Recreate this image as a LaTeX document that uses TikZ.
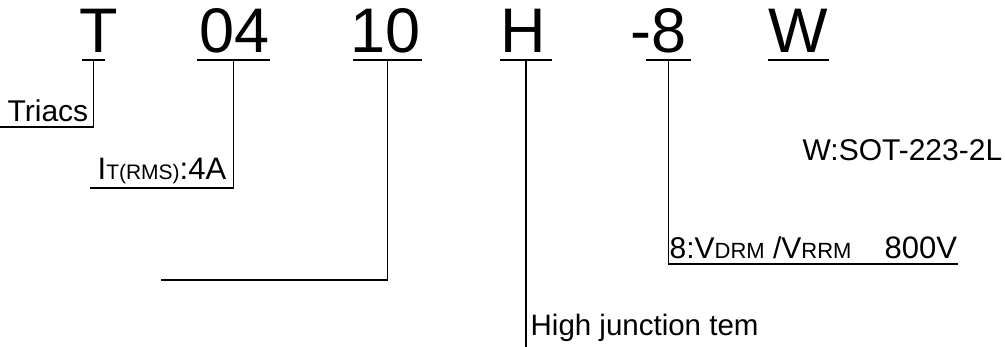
\documentclass[tikz,border=0pt]{standalone}
\usepackage{fontspec}
\setmainfont{Liberation Sans}
\usepackage{tikz}
\usetikzlibrary{positioning}

\begin{document}
\begin{tikzpicture}[x=1pt,y=-1pt,line width=1.3pt]
	\tikzstyle{code}=[font=\fontsize{63}{63}\selectfont,anchor=base west,inner sep=0pt]
	\tikzstyle{annot}=[anchor=base west,inner sep=0pt]
	\useasboundingbox (0,0) rectangle (1005,347);

	% Draw the part number letters
	\foreach \name / \x / \txt in {T/79/T,I/199/04,V/350/10,H/500/H,D/630/-8,P/768/W}
	\node[code] (\name) at (\x,53) {\txt};
	% Underline every letter group and mark its middle
	\foreach \name / \a / \b in {T/82/105,I/197/270,V/353/422,H/500/552,D/646/691,P/768/829}
	{
	\draw (\a,60) -- (\b,60);
	\coordinate (\name-u) at ({(\a+\b)/2},60);
	}
	% Free ends of the leader lines
	\coordinate (T-end) at (0,127);
	\coordinate (I-end) at (90,188);
	\coordinate (V-end) at (161,280);
	\coordinate (H-end) at (526,347);
	\coordinate (D-end) at (958,264);

	% Annotate the letter groups
	\node[annot,font=\fontsize{30}{30}\selectfont] (triacs) at (7,122) {Triacs};
	\node[annot,font=\fontsize{31}{31}\selectfont] (current) at (97,180)
	{I{\fontsize{21}{21}\selectfont T(RMS)}:4A};
	\node[annot,font=\fontsize{29.5}{29.5}\selectfont] (temp) at (530,336) {High junction tem};
	\node[annot,font=\fontsize{30}{30}\selectfont] (volt) at (669,259)
	{8:V{\fontsize{22}{22}\selectfont DRM} /V{\fontsize{22}{22}\selectfont RRM}};
	\node[annot,font=\fontsize{31}{31}\selectfont] (vval) at (884,259) {800V};
	\node[annot,font=\fontsize{30}{30}\selectfont] (pkg) at (802,161) {W:SOT-223-2L};

	% Connect the underlines with the annotations
	\draw (T-u) |- (T-end);
	\draw (I-u) |- (I-end);
	\draw (V-u) |- (V-end);
	\draw (H-u) -- (H-end);
	\draw (D-u) |- (D-end);
\end{tikzpicture}
\end{document}
